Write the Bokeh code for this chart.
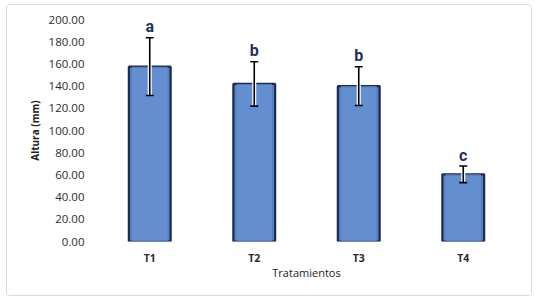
from bokeh.plotting import figure
from bokeh.models import ColumnDataSource, NumeralTickFormatter, FixedTicker, TeeHead, Whisker
from bokeh.core.properties import value
from bokeh.embed import file_html
from bokeh.resources import INLINE

categories = ["T1", "T2", "T3", "T4"]
means = [157.5, 142.0, 140.0, 60.5]
errors = [26.0, 20.0, 17.5, 7.5]
letters = ["a", "b", "b", "c"]
y_ticks = [0, 20, 40, 60, 80, 100, 120, 140, 160, 180, 200]

upper = [m + e for m, e in zip(means, errors)]
lower = [m - e for m, e in zip(means, errors)]
src = ColumnDataSource(dict(cat=categories, mean=means, upper=upper, lower=lower, letter=letters))

p = figure(x_range=categories, y_range=(0, 200), width=526, height=292,
           output_backend="svg", toolbar_location=None,
           min_border_left=90, min_border_right=18, min_border_top=14, min_border_bottom=56)
p.styles = {"border": "1px solid #d9d9d9", "border-radius": "4px", "box-sizing": "border-box",
            "margin-left": "6px", "margin-top": "4px"}
p.outline_line_color = None
p.background_fill_color = "white"
p.border_fill_color = "white"
p.xgrid.grid_line_color = None
p.ygrid.grid_line_color = None

p.vbar(x="cat", top="mean", bottom=0, width=0.4, source=src,
       fill_color="#5580c2", line_color="#1c2a4d", line_width=2.2)
p.vbar(x="cat", top="mean", bottom=0, width=0.34, source=src,
       fill_color="#6a94d4", line_color=None, fill_alpha=0.7)

# white halo then black error bars
p.segment(x0="cat", x1="cat", y0="lower", y1="upper", source=src, line_color="white", line_width=4)
w = Whisker(base="cat", upper="upper", lower="lower", source=src, line_color="black",
            line_width=1.6, level="overlay")
w.upper_head = TeeHead(size=8, line_color="black", line_width=1.6)
w.lower_head = TeeHead(size=8, line_color="black", line_width=1.6)
p.add_layout(w)

p.text(x="cat", y="upper", text="letter", source=src, text_align="center",
       text_baseline="alphabetic", y_offset=-11, text_font=value("Roboto"),
       text_font_style="bold", text_font_size="16px", text_color="#1f3058")

p.yaxis.ticker = FixedTicker(ticks=y_ticks)
p.yaxis.formatter = NumeralTickFormatter(format="0.00")
for ax in (p.xaxis[0], p.yaxis[0]):
    ax.axis_line_color = None
    ax.major_tick_line_color = None
    ax.minor_tick_line_color = None
    ax.major_label_text_font = "Open Sans"
    ax.major_label_text_color = "#2b2b2b"
p.yaxis.major_label_text_font_size = "11.5px"
p.yaxis.major_label_standoff = 7
p.xaxis.major_label_text_font_size = "10.5px"
p.xaxis.major_label_text_font_style = "bold"
p.xaxis.major_label_standoff = 3

p.yaxis.axis_label = "Altura (mm)"
p.yaxis.axis_label_text_font = "Open Sans"
p.yaxis.axis_label_text_font_size = "10px"
p.yaxis.axis_label_text_font_style = "bold"
p.yaxis.axis_label_text_color = "#222222"
p.yaxis.axis_label_standoff = 4
p.xaxis.axis_label = "Tratamientos"
p.xaxis.axis_label_text_font = "Open Sans"
p.xaxis.axis_label_text_font_size = "11px"
p.xaxis.axis_label_text_font_style = "normal"
p.xaxis.axis_label_text_color = "#222222"
p.xaxis.axis_label_standoff = -3

open("out.html", "w").write(file_html(p, INLINE))
